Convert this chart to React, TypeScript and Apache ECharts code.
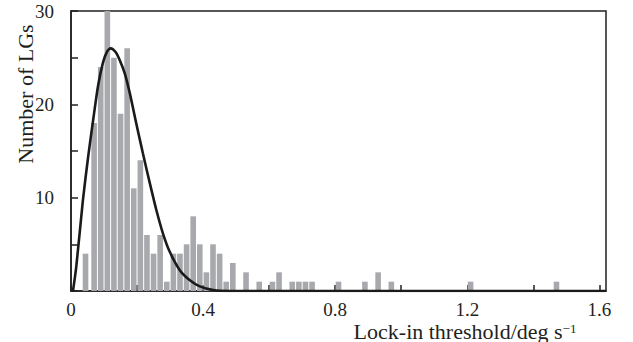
import React, { useEffect, useRef } from 'react';
import * as echarts from 'echarts';

// Histogram bins (bin centre in deg/s, number of LGs)
const binCenters = [
  0.044, 0.07, 0.09, 0.11, 0.13, 0.15, 0.17, 0.19, 0.21, 0.23,
  0.25, 0.27, 0.29, 0.31, 0.33, 0.35, 0.37, 0.39, 0.41, 0.43,
  0.45, 0.47, 0.49, 0.53, 0.57, 0.61, 0.63, 0.67, 0.69, 0.71,
  0.73, 0.81, 0.89, 0.93, 0.97, 1.21, 1.47,
];
const binCounts = [
  4, 18, 24, 30, 25, 19, 26, 11, 14, 6,
  4, 6, 1, 4, 4, 5, 8, 5, 2, 5,
  4, 1, 3, 2, 1, 1, 2, 1, 1, 1,
  1, 1, 1, 2, 1, 1, 1,
];

// Fitted distribution curve
const fitX = [
  0.006, 0.016, 0.036, 0.052, 0.067, 0.082, 0.097, 0.11, 0.12, 0.135,
  0.148, 0.163, 0.178, 0.198, 0.218, 0.239, 0.259, 0.279, 0.299, 0.33,
  0.36, 0.39, 0.431, 0.48, 1.62,
];
const fitY = [
  0, 2.6, 9.7, 14.4, 18.3, 22.0, 24.5, 25.7, 26.0, 25.6,
  24.7, 23.3, 21.2, 17.9, 14.7, 11.5, 8.6, 6.1, 4.2, 2.2,
  1.15, 0.5, 0.1, 0, 0,
];

const xTickLabels = ['0', '0.4', '0.8', '1.2', '1.6'];
const yTickLabels = ['10', '20', '30'];
const xTitle = 'Lock-in threshold/deg s';
const xTitleSup = '−1';
const yTitle = 'Number of LGs';

const INK = '#231f20';
const FONT = '"Liberation Serif", "Times New Roman", serif';

export default function App() {
  const ref = useRef<HTMLDivElement>(null);
  useEffect(() => {
    if (!ref.current) return;
    const chart = echarts.init(ref.current, null, { renderer: 'svg' });
    chart.setOption({
      animation: false,
      backgroundColor: '#ffffff',
      grid: {
        left: 71,
        top: 11,
        width: 535,
        height: 280,
        show: true,
        borderColor: INK,
        borderWidth: 1.5,
        containLabel: false,
      },
      xAxis: {
        type: 'value',
        min: 0,
        max: 1.62,
        interval: 0.2,
        axisLine: { show: true, lineStyle: { color: INK, width: 1.5 } },
        axisTick: { show: true, inside: true, length: 6, lineStyle: { color: INK, width: 1.5 } },
        splitLine: { show: false },
        axisLabel: {
          margin: 9,
          color: INK,
          fontFamily: FONT,
          fontSize: 19,
          lineHeight: 18,
          showMaxLabel: false,
          formatter: (v: number) => {
            const r = Math.round(v * 10) / 10;
            if (Math.abs(v - r) > 1e-6) return '';
            const s = r === 0 ? '0' : r.toFixed(1);
            return xTickLabels.includes(s) ? s : '';
          },
        },
      },
      yAxis: {
        type: 'value',
        min: 0,
        max: 30,
        interval: 5,
        axisLine: { show: true, lineStyle: { color: INK, width: 1.5 } },
        axisTick: { show: true, inside: true, length: 7, lineStyle: { color: INK, width: 1.5 } },
        splitLine: { show: false },
        axisLabel: {
          margin: 17,
          color: INK,
          fontFamily: FONT,
          fontSize: 19,
          formatter: (v: number) => {
            const s = String(Math.round(v));
            return yTickLabels.includes(s) ? s : '';
          },
        },
      },
      series: [
        {
          type: 'bar',
          data: binCenters.map((x, i) => [x, binCounts[i]]),
          barWidth: 5.6,
          itemStyle: { color: '#a7a9ac' },
          z: 2,
        },
        {
          type: 'line',
          data: fitX.map((x, i) => [x, fitY[i]]),
          smooth: 0.25,
          showSymbol: false,
          symbol: 'none',
          lineStyle: { color: '#1a1a1a', width: 2.6 },
          z: 3,
        },
      ],
      graphic: [
        {
          type: 'text',
          x: 25,
          y: 94,
          rotation: Math.PI / 2,
          style: {
            text: yTitle,
            fill: INK,
            font: `22px ${FONT}`,
            align: 'center',
            verticalAlign: 'middle',
          },
        },
        {
          type: 'text',
          x: 465,
          y: 331,
          style: {
            text: `{t|${xTitle}}{s|${xTitleSup}}`,
            align: 'center',
            verticalAlign: 'middle',
            rich: {
              t: { fontSize: 22, fontFamily: FONT, fill: INK, color: INK, lineHeight: 19 },
              s: { fontSize: 13, fontFamily: FONT, fill: INK, color: INK, verticalAlign: 'top', lineHeight: 19 },
            },
          },
        },
      ],
    });
    return () => chart.dispose();
  }, []);
  return (
    <div
      ref={ref}
      style={{ position: 'absolute', left: 0, top: 0, width: 633, height: 342, background: '#fff' }}
    />
  );
}
